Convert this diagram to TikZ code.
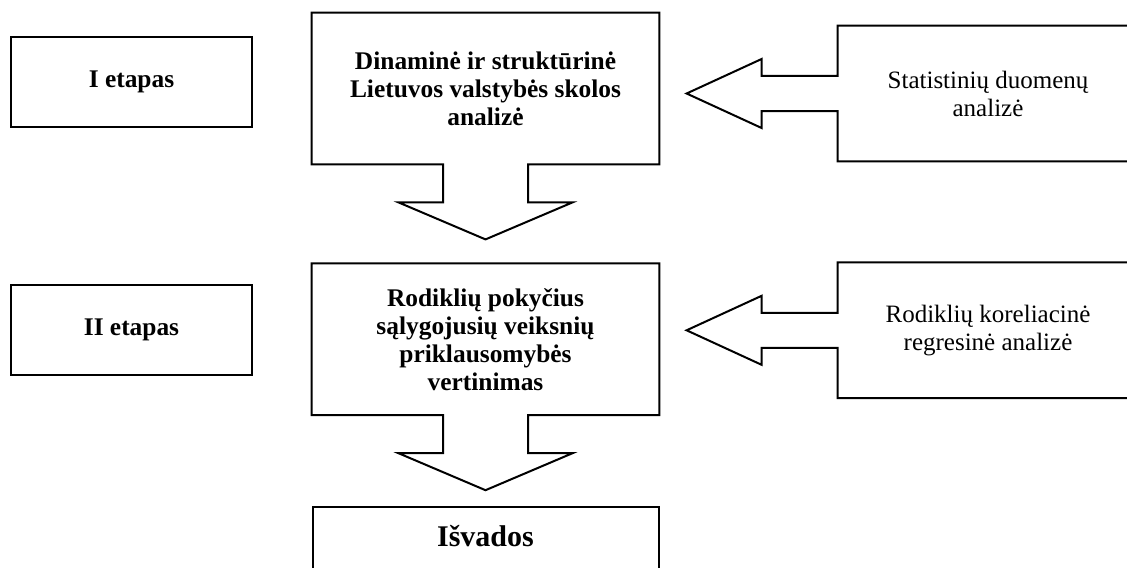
\documentclass[tikz,border=0pt]{standalone}
\usepackage{fontspec}
\setmainfont{Liberation Serif}
\usetikzlibrary{positioning,calc}

\begin{document}
\begin{tikzpicture}[
    x=0.5pt, y=-0.5pt,
    stage/.style={rectangle, draw=black, line width=1pt, minimum width=120.5pt, minimum height=45pt, font=\fontsize{12.7}{14}\selectfont\bfseries},
    task/.style={rectangle, minimum width=173.5pt, minimum height=75.5pt, align=center, font=\fontsize{12.7}{14}\selectfont\bfseries},
    source/.style={rectangle, minimum width=150pt, minimum height=67.5pt, align=center, font=\fontsize{12.5}{14}\selectfont},
    outline/.style={draw=black, line width=1pt, line join=miter},
]
\useasboundingbox (0,0) rectangle (1127,567);
\clip (0,0) rectangle (1127,567);

% Stages
\node[stage] (st1) at (131.5,82) {I etapas};
\node[stage, below=78pt of st1] (st2) {II etapas};

% Main steps
\node[task] (an1) at (485.5,88.5) {Dinaminė ir struktūrinė\\Lietuvos valstybės skolos\\analizė};
\node[task, below=49.5pt of an1] (an2) {Rodiklių pokyčius\\sąlygojusių veiksnių\\priklausomybės\\vertinimas};
\node[draw=black, line width=1pt, below=45.5pt of an2, minimum width=173pt, inner ysep=8.5pt, text height=11pt, text depth=30pt, font=\fontsize{15}{18}\selectfont\bfseries] (concl) {Išvados};

% Inputs
\node[source] (src1) at (988,93.5) {Statistinių duomenų\\analizė};
\node[source, below=50.5pt of src1] (src2) {Rodiklių koreliacinė\\regresinė analizė};

% Down arrow callouts
\foreach \n in {an1,an2}
  \draw[outline] ($(\n.south)+(-21.25pt,0)$) -- (\n.south west) -- (\n.north west) -- (\n.north east) -- (\n.south east)
    -- ($(\n.south)+(21.25pt,0)$) -- ++(0,-19pt) -- ++(22.25pt,0) -- ($(\n.south)+(0,-37.5pt)$)
    -- ($(\n.south)+(-43.5pt,-19pt)$) -- ++(22.25pt,0) -- cycle;

% Left arrow callouts
\foreach \n in {src1,src2}
  \draw[outline] ($(\n.west)+(0,8.75pt)$) -- (\n.north west) -- (\n.north east) -- (\n.south east) -- (\n.south west)
    -- ($(\n.west)+(0,-8.75pt)$) -- ++(-38pt,0) -- ++(0,-8.5pt) -- ($(\n.west)+(-75.5pt,0)$)
    -- ($(\n.west)+(-38pt,17.25pt)$) -- ++(0,-8.5pt) -- cycle;

\end{tikzpicture}
\end{document}
